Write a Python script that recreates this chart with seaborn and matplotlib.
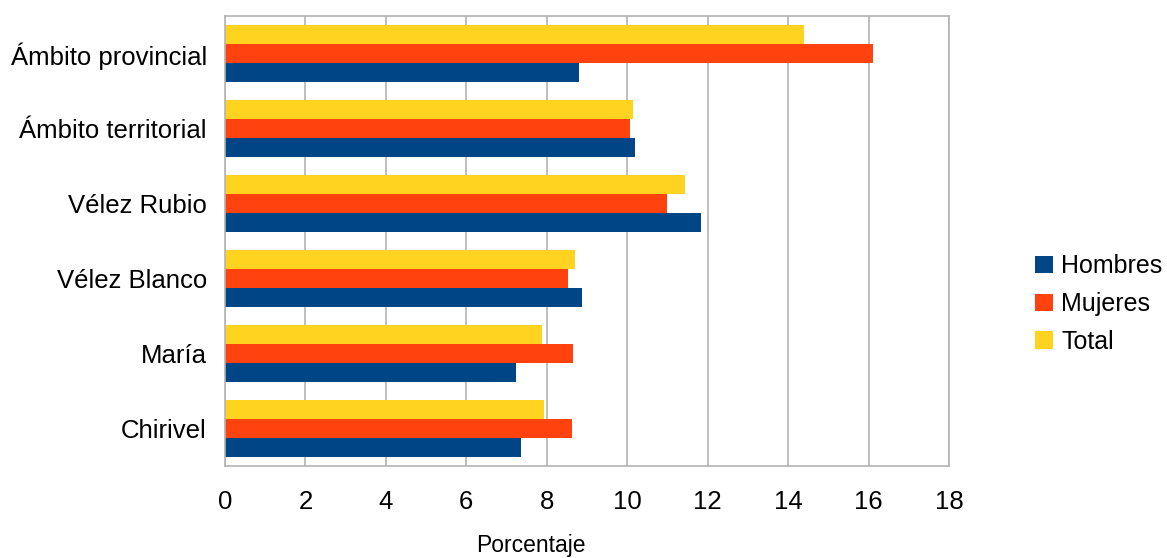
import matplotlib
matplotlib.use("Agg")
import matplotlib.pyplot as plt
import seaborn as sns
import pandas as pd
import numpy as np
from matplotlib.patches import Patch

categories = ["Ámbito provincial", "Ámbito territorial", "Vélez Rubio",
              "Vélez Blanco", "María", "Chirivel"]
hombres = [8.80, 10.19, 11.83, 8.87, 7.23, 7.35]
mujeres = [16.12, 10.06, 10.98, 8.52, 8.65, 8.62]
total = [14.39, 10.14, 11.43, 8.70, 7.88, 7.93]
series_names = ["Hombres", "Mujeres", "Total"]
colors = {"Hombres": "#004586", "Mujeres": "#ff420e", "Total": "#ffd320"}
xticks = [0, 2, 4, 6, 8, 10, 12, 14, 16, 18]

df = pd.DataFrame({
    "Categoria": categories * 3,
    "Serie": ["Hombres"] * 6 + ["Mujeres"] * 6 + ["Total"] * 6,
    "Valor": hombres + mujeres + total,
})

sns.set_theme(style="white")
plt.rcParams['font.family'] = ['Liberation Sans', 'DejaVu Sans']
plt.rcParams['text.color'] = 'black'

fig = plt.figure(figsize=(11.67, 5.58), dpi=100)
ax = fig.add_axes([225/1167, 1 - 466/558, (949 - 225)/1167, (466 - 16)/558])

sns.barplot(data=df, y="Categoria", x="Valor", hue="Serie",
            order=categories, hue_order=["Total", "Mujeres", "Hombres"],
            palette=colors, orient="h", width=0.75, saturation=1,
            errorbar=None, ax=ax, legend=False, linewidth=0)

grid_c = "#b3b3b3"
ax.set_xlim(0, 18)
ax.set_ylim(len(categories) - 0.5, -0.5)
ax.set_xticks(xticks)
ax.set_xticklabels([str(t) for t in xticks])
ax.xaxis.grid(True, color=grid_c, linewidth=1.2)
ax.set_axisbelow(True)

for s in ax.spines.values():
    s.set_color(grid_c)
    s.set_linewidth(1.2)

ax.tick_params(axis="x", which="major", direction="out", length=8, width=1.2,
               color=grid_c, labelsize=18.5, pad=9, labelcolor="black")
ax.tick_params(axis="y", which="major", length=0, labelsize=18.5, pad=13,
               labelcolor="black")
ax.set_yticks(np.arange(-0.5, len(categories), 1.0), minor=True)
ax.tick_params(axis="y", which="minor", direction="out", length=8, width=1.2,
               color=grid_c)

ax.set_ylabel("")
ax.set_xlabel("Porcentaje", fontsize=16.5, color="black")
ax.xaxis.set_label_coords((531 - 225) / 724, -0.152)

handles = [Patch(facecolor=colors[n], edgecolor="none", label=n) for n in series_names]
fig.legend(handles=handles, loc="center left", bbox_to_anchor=(1035/1167, 1 - 304/558),
           frameon=False, fontsize=18, handlelength=0.7, handleheight=0.7,
           handletextpad=0.35, labelspacing=0.55, borderpad=0, borderaxespad=0,
           labelcolor="black")

fig.savefig("out.png", dpi=100)
